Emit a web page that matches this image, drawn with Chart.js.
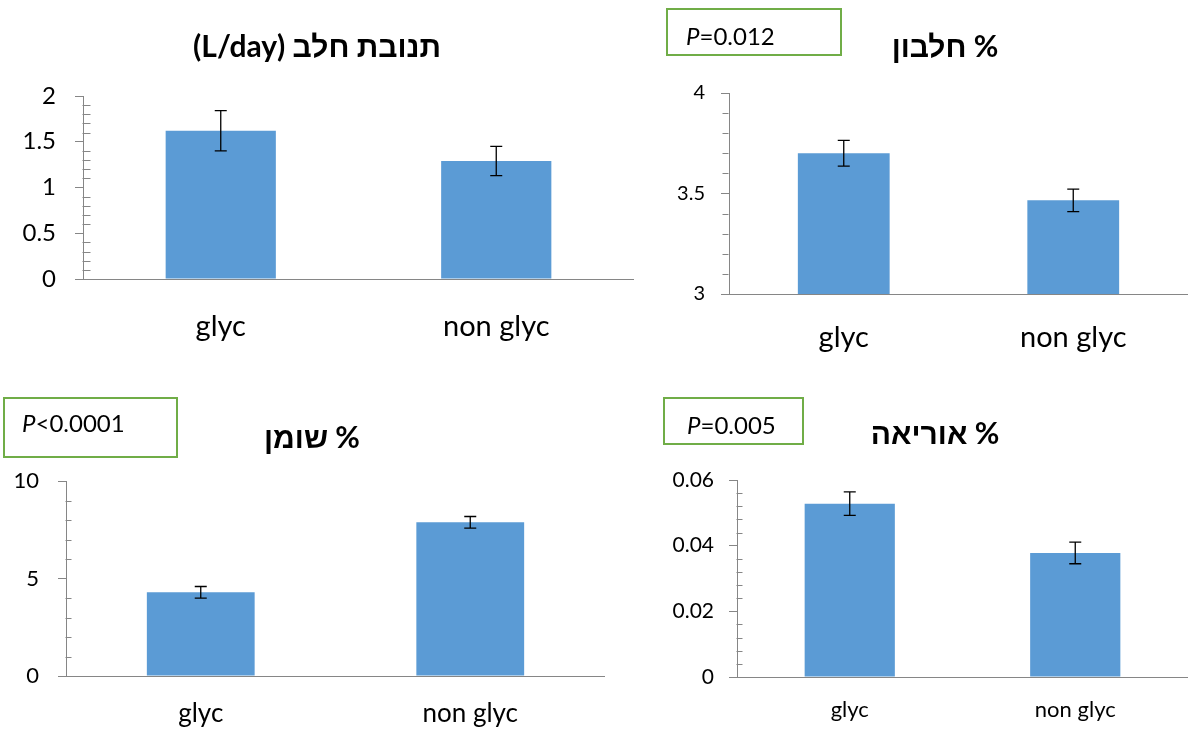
<!DOCTYPE html>
<html>
<head>
<meta charset="utf-8">
<script src="https://cdn.jsdelivr.net/npm/chart.js@4"></script>
<style>
  body { margin: 0; background: #fff; }
  #page { position: relative; width: 1188px; height: 730px; overflow: hidden; }
  canvas { position: absolute; }
  .title {
    position: absolute; transform: translate(-50%, -50%); white-space: nowrap;
    font: bold 30px Lato, "Liberation Sans", "DejaVu Sans", sans-serif; color: #000;
  }
  .pbox {
    position: absolute; box-sizing: border-box; border: 2px solid #70ad47;
    font: 24px Lato, "Liberation Sans", sans-serif; color: #000; line-height: 24px;
  }
</style>
</head>
<body>
<div id="page"></div>
<script>
const categories = ['glyc', 'non glyc'];

// milk yield (L/day)
const milkYield = [1.62, 1.29];
const milkYieldErr = [0.22, 0.16];
// protein %
const protein = [3.70, 3.466];
const proteinErr = [0.064, 0.056];
// fat %
const fat = [4.29, 7.88];
const fatErr = [0.30, 0.30];
// urea %
const urea = [0.0528, 0.0378];
const ureaErr = [0.0036, 0.0033];

const titles = ['תנובת חלב (L/day)', '% חלבון', '% שומן', '% אוריאה'];
const pSigns = [null, '=', '<', '='];
const pValues = [null, '0.012', '0.0001', '0.005'];

// min, max, major step, minor step
const yRanges = [[0, 2, 0.5, 0.1], [3, 4, 0.5, 0.1], [0, 10, 5, 1], [0, 0.06, 0.02, 0.004]];
const seriesList = [milkYield, protein, fat, urea];
const errList = [milkYieldErr, proteinErr, fatErr, ureaErr];

// layout of each panel (page pixels)
const panels = [
    { box: [0, 60, 634, 290], yWidth: 83, padTop: 36, xHeight: 71, xPad: 22, yPad: 19, tickFont: 24, catFont: 29, minorSide: 'in', minorLen: 8,
      title: [317, 45], pbox: null },
    { box: [660, 60, 528, 300], yWidth: 69, padTop: 33, xHeight: 66, xPad: 18, yPad: 16, tickFont: 20, catFont: 29, minorSide: 'out', minorLen: 6,
      title: [945, 45], pbox: [666, 8, 176, 48, 18, 14] },
    { box: [0, 447, 605, 283], yWidth: 66, padTop: 34, xHeight: 54, xPad: 14, yPad: 19, tickFont: 22, catFont: 26, minorSide: 'in', minorLen: 6,
      title: [312, 436], pbox: [3, 397, 175, 61, 17, 12] },
    { box: [650, 450, 538, 280], yWidth: 87, padTop: 30, xHeight: 53, xPad: 12, yPad: 15, tickFont: 21, catFont: 22, minorSide: 'in', minorLen: 6,
      title: [935, 432], pbox: [663, 397, 141, 48, 22, 14] }
];

const axisGray = '#868686';

// minor tick marks on the y axis
const minorTicks = {
    id: 'minorTicks',
    afterDraw(chart, args, opts) {
        const y = chart.scales.y;
        const ctx = chart.ctx;
        const ax = Math.round(chart.chartArea.left) - 0.5;
        const n = Math.round((opts.max - opts.min) / opts.step);
        const per = Math.round(opts.major / opts.step);
        ctx.save();
        ctx.strokeStyle = axisGray;
        ctx.lineWidth = 1;
        ctx.beginPath();
        for (let i = 1; i < n; i++) {
            if (i % per === 0) continue;
            const py = Math.round(y.getPixelForValue(opts.min + i * opts.step)) + 0.5;
            const x2 = opts.side === 'in' ? ax + opts.len : ax - opts.len;
            ctx.moveTo(ax, py);
            ctx.lineTo(x2, py);
        }
        ctx.stroke();
        ctx.restore();
    }
};

// error bars from dataset.errors
const errorBars = {
    id: 'errorBars',
    afterDatasetsDraw(chart) {
        const ds = chart.data.datasets[0];
        const meta = chart.getDatasetMeta(0);
        const y = chart.scales.y;
        const ctx = chart.ctx;
        ctx.save();
        ctx.strokeStyle = '#000';
        ctx.lineWidth = 1.3;
        ds.data.forEach(function (v, i) {
            const x = meta.data[i].x;
            const top = y.getPixelForValue(v + ds.errors[i]);
            const bot = y.getPixelForValue(v - ds.errors[i]);
            ctx.beginPath();
            ctx.moveTo(x, top); ctx.lineTo(x, bot);
            ctx.moveTo(x - 6, top); ctx.lineTo(x + 6, top);
            ctx.moveTo(x - 6, bot); ctx.lineTo(x + 6, bot);
            ctx.stroke();
        });
        ctx.restore();
    }
};

const page = document.getElementById('page');

panels.forEach(function (p, k) {
    const canvas = document.createElement('canvas');
    canvas.width = p.box[2];
    canvas.height = p.box[3];
    canvas.style.left = p.box[0] + 'px';
    canvas.style.top = p.box[1] + 'px';
    page.appendChild(canvas);

    const t = document.createElement('div');
    t.className = 'title';
    t.dir = 'rtl';
    t.textContent = titles[k];
    t.style.left = p.title[0] + 'px';
    t.style.top = p.title[1] + 'px';
    page.appendChild(t);

    if (p.pbox) {
        const b = document.createElement('div');
        b.className = 'pbox';
        b.style.left = p.pbox[0] + 'px';
        b.style.top = p.pbox[1] + 'px';
        b.style.width = p.pbox[2] + 'px';
        b.style.height = p.pbox[3] + 'px';
        b.style.paddingLeft = p.pbox[4] + 'px';
        b.style.paddingTop = p.pbox[5] + 'px';
        const it = document.createElement('i');
        it.textContent = 'P';
        b.appendChild(it);
        b.appendChild(document.createTextNode(pSigns[k] + pValues[k]));
        page.appendChild(b);
    }

    const r = yRanges[k];
    new Chart(canvas, {
        type: 'bar',
        data: {
            labels: categories,
            datasets: [{
                data: seriesList[k],
                errors: errList[k],
                backgroundColor: '#5b9bd5',
                borderWidth: 0,
                barPercentage: 0.4,
                categoryPercentage: 1.0
            }]
        },
        options: {
            responsive: false,
            animation: false,
            layout: { padding: { top: p.padTop, left: 0, right: 0, bottom: 0 } },
            plugins: {
                legend: { display: false },
                tooltip: { enabled: false },
                title: { display: false },
                minorTicks: { min: r[0], max: r[1], major: r[2], step: r[3], side: p.minorSide, len: p.minorLen }
            },
            scales: {
                x: {
                    grid: { display: false },
                    border: { display: true, color: axisGray, width: 1 },
                    ticks: { color: '#000', padding: p.xPad, font: { family: 'Lato', size: p.catFont } },
                    afterFit: function (s) { s.height = p.xHeight; }
                },
                y: {
                    min: r[0],
                    max: r[1],
                    grid: { display: true, drawOnChartArea: false, drawTicks: true, tickLength: 8, color: axisGray },
                    border: { display: true, color: axisGray, width: 1 },
                    ticks: {
                        stepSize: r[2], color: '#000', padding: p.yPad, font: { family: 'Lato', size: p.tickFont },
                        callback: function (v) { return String(+v.toFixed(6)); }
                    },
                    afterFit: function (s) { s.width = p.yWidth; }
                }
            }
        },
        plugins: [minorTicks, errorBars]
    });
});
</script>
</body>
</html>
